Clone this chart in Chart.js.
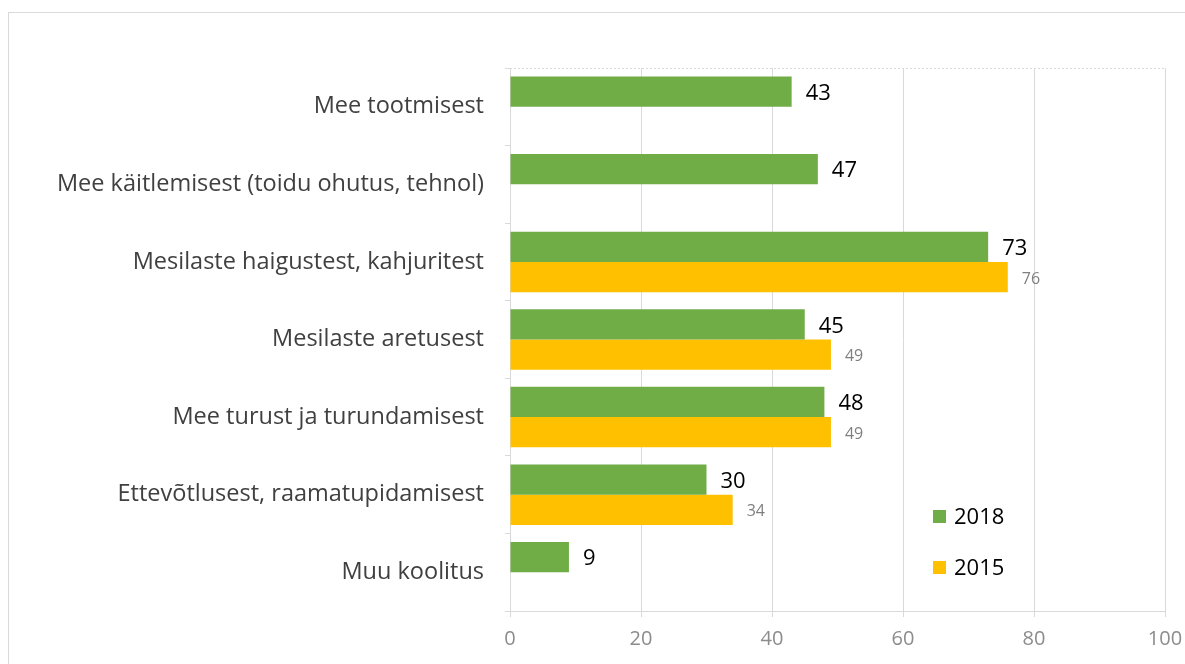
<!DOCTYPE html>
<html>
<head>
<meta charset="utf-8">
<script src="https://cdn.jsdelivr.net/npm/chart.js@4"></script>
<style>
  html, body { margin: 0; padding: 0; background: #fff; }
  #wrap { position: relative; width: 1185px; height: 664px; overflow: hidden; }
  #frame { position: absolute; left: 8px; top: 12px; width: 1300px; height: 800px; border: 1px solid #d9d9d9; box-sizing: border-box; }
  canvas { position: absolute; left: 0; top: 0; }
</style>
</head>
<body>
<div id="wrap">
  <div id="frame"></div>
  <canvas id="chart" width="1185" height="664"></canvas>
</div>
<script>
// andmed
const kategooriad = [
  "Mee tootmisest",
  "Mee käitlemisest (toidu ohutus, tehnol)",
  "Mesilaste haigustest, kahjuritest",
  "Mesilaste aretusest",
  "Mee turust ja turundamisest",
  "Ettevõtlusest, raamatupidamisest",
  "Muu koolitus"
];
const vaartused2018 = [43, 47, 73, 45, 48, 30, 9];
const vaartused2015 = [null, null, 76, 49, 49, 34, null];
const xTikid = [0, 20, 40, 60, 80, 100];

const fontPere = "'Open Sans', sans-serif";

// väärtuste sildid tulpade lõpus
const siltidePlugin = {
  id: "sildid",
  afterDatasetsDraw(chart) {
    const ctx = chart.ctx;
    chart.data.datasets.forEach((ds, i) => {
      const meta = chart.getDatasetMeta(i);
      meta.data.forEach((bar, j) => {
        const v = ds.data[j];
        if (v === null) return;
        ctx.save();
        ctx.textAlign = "left";
        ctx.textBaseline = "middle";
        if (i === 0) {
          ctx.fillStyle = "#000";
          ctx.font = "22px " + fontPere;
          ctx.fillText(v, bar.x + 14, bar.y + 2);
        } else {
          ctx.fillStyle = "#7f7f7f";
          ctx.font = "16px " + fontPere;
          ctx.fillText(v, bar.x + 14, bar.y + 2);
        }
        ctx.restore();
      });
    });
  }
};

// legend paremal all ja joonise ülemine ääris
const legendPlugin = {
  id: "legend2",
  afterDraw(chart) {
    const ctx = chart.ctx;
    const a = chart.chartArea;
    ctx.save();
    ctx.strokeStyle = "#d9d9d9";
    ctx.setLineDash([2, 2]);
    ctx.beginPath();
    ctx.moveTo(a.left, a.top + 0.5);
    ctx.lineTo(a.right, a.top + 0.5);
    ctx.stroke();
    ctx.setLineDash([]);
    const kirjed = [
      { tekst: chart.data.datasets[0].label, varv: chart.data.datasets[0].backgroundColor, y: 517 },
      { tekst: chart.data.datasets[1].label, varv: chart.data.datasets[1].backgroundColor, y: 568 }
    ];
    kirjed.forEach(k => {
      ctx.fillStyle = k.varv;
      ctx.fillRect(933, k.y - 7, 13, 13);
      ctx.fillStyle = "#000";
      ctx.font = "22px " + fontPere;
      ctx.textBaseline = "middle";
      ctx.fillText(k.tekst, 954, k.y + 1);
    });
    ctx.restore();
  }
};

new Chart(document.getElementById("chart"), {
  type: "bar",
  data: {
    labels: kategooriad,
    datasets: [
      { label: "2018", data: vaartused2018, backgroundColor: "#70AD47", categoryPercentage: 0.78, barPercentage: 1 },
      { label: "2015", data: vaartused2015, backgroundColor: "#FFC000", categoryPercentage: 0.78, barPercentage: 1 }
    ]
  },
  options: {
    indexAxis: "y",
    responsive: false,
    animation: false,
    layout: { padding: { top: 68, right: 20, left: 0, bottom: 0 } },
    plugins: {
      legend: { display: false },
      tooltip: { enabled: false }
    },
    scales: {
      x: {
        min: 0,
        max: 100,
        afterBuildTicks: s => { s.ticks = xTikid.map(v => ({ value: v })); },
        afterFit: s => { s.height = 53; s.paddingRight = 0; s.paddingLeft = 0; },
        grid: { color: "#d9d9d9", tickLength: 6, drawTicks: true },
        border: { color: "#d9d9d9" },
        ticks: { color: "#8c8c8c", font: { family: fontPere, size: 20 }, padding: 10 }
      },
      y: {
        afterFit: s => { s.width = 510; },
        grid: { drawOnChartArea: false, tickLength: 5, color: "#d9d9d9", offset: true },
        border: { color: "#d9d9d9" },
        ticks: { color: "#404040", font: { family: fontPere, size: 23.5 }, padding: 21 }
      }
    }
  },
  plugins: [siltidePlugin, legendPlugin]
});
</script>
</body>
</html>
